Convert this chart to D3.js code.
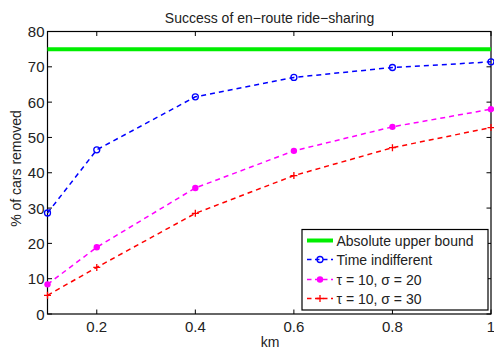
<!DOCTYPE html>
<html>
  <head>
    <meta charset="utf-8">
    <script src="https://d3js.org/d3.v7.min.js"></script>
    <style>
      body { margin: 0; background: #fff; }
      svg { display: block; font-family: "Liberation Sans", Arial, sans-serif; }
    </style>
  </head>
<body>
<script>
"use strict";

// data
var km = [0.1, 0.2, 0.4, 0.6, 0.8, 1.0];
var upperBound = 75;
var timeIndifferent = [28.6, 46.5, 61.5, 67.0, 69.8, 71.4];
var tau10sigma20 = [8.4, 18.9, 35.7, 46.2, 53.0, 58.0];
var tau10sigma30 = [5.3, 13.2, 28.5, 39.2, 47.1, 52.8];
var xTicks = [0.2, 0.4, 0.6, 0.8, 1];
var yTicks = [0, 10, 20, 30, 40, 50, 60, 70, 80];

function draw() {
    var width = 494, height = 354;
    var mLeft = 47.5, mRight = 491, mTop = 31.5, mBottom = 314;

    var svg = d3.select("body").append("svg")
        .attr("width", width)
        .attr("height", height);

    var x = d3.scaleLinear().domain([0.1, 1]).range([mLeft, mRight]);
    var y = d3.scaleLinear().domain([0, 80]).range([mBottom, mTop]);

    // axes box
    svg.append("rect")
        .attr("x", mLeft).attr("y", mTop)
        .attr("width", mRight - mLeft).attr("height", mBottom - mTop)
        .attr("fill", "none").attr("stroke", "#000").attr("stroke-width", 1.2);

    // ticks (inside, on all four sides)
    var tl = 4.5;
    xTicks.forEach(function(t) {
        svg.append("line").attr("x1", x(t)).attr("x2", x(t)).attr("y1", mBottom).attr("y2", mBottom - tl).attr("stroke", "#000");
        svg.append("line").attr("x1", x(t)).attr("x2", x(t)).attr("y1", mTop).attr("y2", mTop + tl).attr("stroke", "#000");
        svg.append("text").attr("x", x(t)).attr("y", mBottom + 18)
            .attr("text-anchor", "middle").style("font-size", "15px").attr("fill", "#222")
            .text(t.toString());
    });
    yTicks.forEach(function(t) {
        svg.append("line").attr("x1", mLeft).attr("x2", mLeft + tl).attr("y1", y(t)).attr("y2", y(t)).attr("stroke", "#000");
        svg.append("line").attr("x1", mRight).attr("x2", mRight - tl).attr("y1", y(t)).attr("y2", y(t)).attr("stroke", "#000");
        svg.append("text").attr("x", mLeft - 3).attr("y", y(t) + 5.5)
            .attr("text-anchor", "end").style("font-size", "15px").attr("fill", "#222")
            .text(t);
    });

    // labels
    svg.append("text").attr("x", 269.5).attr("y", 23)
        .attr("text-anchor", "middle").style("font-size", "14px").attr("fill", "#222")
        .text("Success of en\u2212route ride\u2212sharing");
    svg.append("text").attr("x", 270).attr("y", 347)
        .attr("text-anchor", "middle").style("font-size", "14px").attr("fill", "#222")
        .text("km");
    svg.append("text")
        .attr("transform", "translate(21,168.5) rotate(-90)")
        .attr("text-anchor", "middle").style("font-size", "14px").attr("fill", "#222")
        .text("% of cars removed");

    var line = d3.line().x(function(d) { return x(d[0]); }).y(function(d) { return y(d[1]); });

    function drawMarker(g, type, color, cx, cy) {
        if (type === "circle") {
            g.append("circle").attr("cx", cx).attr("cy", cy).attr("r", 3)
                .attr("fill", "none").attr("stroke", color).attr("stroke-width", 1.3);
        } else if (type === "dot") {
            g.append("circle").attr("cx", cx).attr("cy", cy).attr("r", 3.2).attr("fill", color);
        } else if (type === "plus") {
            g.append("path").attr("d", "M" + (cx - 3.5) + "," + cy + "H" + (cx + 3.5) + "M" + cx + "," + (cy - 3.5) + "V" + (cy + 3.5))
                .attr("stroke", color).attr("stroke-width", 1.3);
        }
    }

    var series = [
        { name: "Time indifferent", values: timeIndifferent, color: "#0000ff", marker: "circle" },
        { name: "\u03c4 = 10, \u03c3 = 20", values: tau10sigma20, color: "#ff00ff", marker: "dot" },
        { name: "\u03c4 = 10, \u03c3 = 30", values: tau10sigma30, color: "#ff0000", marker: "plus" }
    ];

    // upper bound
    svg.append("line")
        .attr("x1", x(0.1)).attr("x2", x(1)).attr("y1", y(upperBound)).attr("y2", y(upperBound))
        .attr("stroke", "#00ee00").attr("stroke-width", 4);

    series.forEach(function(s) {
        var pts = km.map(function(k, i) { return [k, s.values[i]]; });
        var g = svg.append("g");
        g.append("path").attr("d", line(pts)).attr("fill", "none")
            .attr("stroke", s.color).attr("stroke-width", 1.5).attr("stroke-dasharray", "5,4");
        pts.forEach(function(p) { drawMarker(g, s.marker, s.color, x(p[0]), y(p[1])); });
    });

    // legend
    var lg = svg.append("g");
    lg.append("rect").attr("x", 302).attr("y", 229.5).attr("width", 186).attr("height", 80.5)
        .attr("fill", "#fff").attr("stroke", "#000").attr("stroke-width", 1.2);
    var rows = [240.5, 259.5, 279.5, 298.5];
    lg.append("line").attr("x1", 307).attr("x2", 333).attr("y1", rows[0]).attr("y2", rows[0])
        .attr("stroke", "#00ee00").attr("stroke-width", 4);
    lg.append("text").attr("x", 336.5).attr("y", rows[0] + 5).style("font-size", "14px").attr("fill", "#222")
        .text("Absolute upper bound");
    series.forEach(function(s, i) {
        var ry = rows[i + 1];
        lg.append("line").attr("x1", 307).attr("x2", 333).attr("y1", ry).attr("y2", ry)
            .attr("stroke", s.color).attr("stroke-width", 1.5).attr("stroke-dasharray", "4.5,3.5");
        drawMarker(lg, s.marker, s.color, 320, ry);
        lg.append("text").attr("x", 336.5).attr("y", ry + 5).style("font-size", "14px").attr("fill", "#222")
            .text(s.name);
    });
}

draw();
</script>
</body>
</html>
